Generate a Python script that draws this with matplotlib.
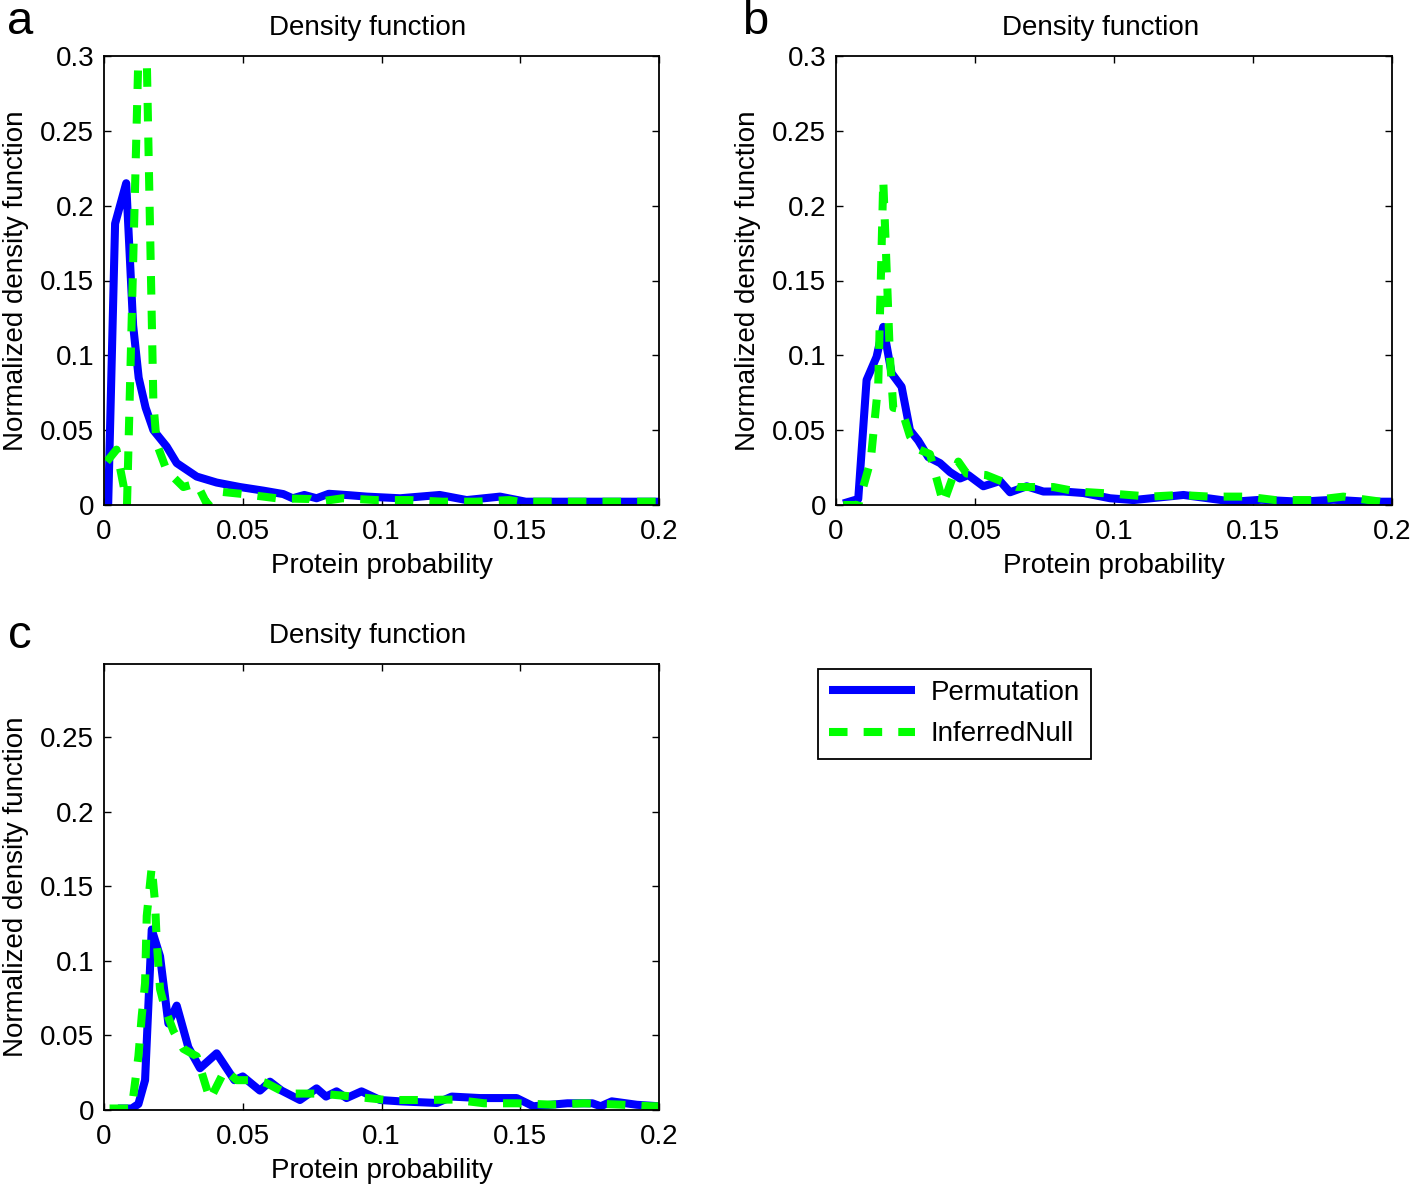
import matplotlib
matplotlib.use("Agg")
import matplotlib.pyplot as plt

plt.rcParams["font.family"] = ["Liberation Sans", "DejaVu Sans"]

# ── data ──────────────────────────────────────────────────────
# panel a
xa_perm = [0.0015, 0.004, 0.008, 0.0105, 0.0125, 0.015, 0.0178, 0.0226, 0.0262,
           0.0334, 0.0406, 0.049, 0.0574, 0.0646, 0.068, 0.0722, 0.0766, 0.081,
           0.0886, 0.0947, 0.1067, 0.121, 0.1307, 0.1427, 0.152, 0.175, 0.2]
ya_perm = [0.0, 0.188, 0.215, 0.12, 0.085, 0.065, 0.050, 0.039, 0.028,
           0.019, 0.015, 0.012, 0.0096, 0.0073, 0.0045, 0.0067, 0.0045, 0.0075,
           0.0065, 0.0056, 0.0045, 0.0067, 0.0033, 0.0056, 0.0022, 0.0022, 0.0022]
xa_null = [0.001, 0.0045, 0.0083, 0.0141, 0.0178, 0.019, 0.0226, 0.0286, 0.0334,
           0.037, 0.0418, 0.0502, 0.0622, 0.0742, 0.0766, 0.086, 0.098, 0.11,
           0.122, 0.134, 0.146, 0.1495, 0.17, 0.2]
ya_null = [0.029, 0.037, 0.001, 0.425, 0.068, 0.041, 0.023, 0.012, 0.0145,
           0.001, 0.0089, 0.0073, 0.0045, 0.004, 0.002, 0.0045, 0.0033, 0.0033,
           0.0022, 0.0022, 0.0033, 0.0022, 0.0022, 0.0022]

# panel b
xb_perm = [0.0026, 0.008, 0.011, 0.0146, 0.017, 0.020, 0.0236, 0.0266, 0.0296,
           0.0332, 0.0374, 0.041, 0.0446, 0.0476, 0.053, 0.059, 0.0626, 0.0686,
           0.0746, 0.0818, 0.089, 0.0986, 0.107, 0.125, 0.143, 0.153, 0.167,
           0.179, 0.191, 0.2]
yb_perm = [0.001, 0.004, 0.0835, 0.099, 0.119, 0.088, 0.079, 0.050, 0.043,
           0.032, 0.028, 0.022, 0.0177, 0.020, 0.0125, 0.016, 0.0085, 0.0125,
           0.009, 0.009, 0.008, 0.0045, 0.0033, 0.0067, 0.0022, 0.0035, 0.0022,
           0.0035, 0.0022, 0.0022]
xb_null = [0.0026, 0.008, 0.0125, 0.0152, 0.017, 0.0194, 0.0206, 0.0236, 0.0266,
           0.030, 0.0338, 0.0386, 0.044, 0.047, 0.054, 0.058, 0.065, 0.0782,
           0.0866, 0.0998, 0.113, 0.1237, 0.1345, 0.1477, 0.158, 0.172, 0.1825,
           0.196, 0.2]
yb_null = [0.0, 0.0, 0.03, 0.081, 0.217, 0.099, 0.065, 0.064, 0.046,
           0.037, 0.034, 0.001, 0.029, 0.021, 0.020, 0.017, 0.012, 0.012,
           0.009, 0.0075, 0.0056, 0.0067, 0.0056, 0.0056, 0.0033, 0.0033, 0.0056,
           0.0022, 0.0022]

# panel c
xc_perm = [0.005, 0.010, 0.0124, 0.0148, 0.0172, 0.0202, 0.0232, 0.0262, 0.0304,
           0.0346, 0.0406, 0.047, 0.050, 0.0562, 0.0598, 0.064, 0.0706, 0.0766,
           0.080, 0.0838, 0.0874, 0.0928, 0.0995, 0.1067, 0.12, 0.1253, 0.1355,
           0.1487, 0.1547, 0.167, 0.176, 0.179, 0.183, 0.192, 0.2]
yc_perm = [0.001, 0.001, 0.004, 0.020, 0.121, 0.103, 0.058, 0.070, 0.042,
           0.028, 0.038, 0.020, 0.0225, 0.013, 0.019, 0.013, 0.0067, 0.0145,
           0.009, 0.0125, 0.008, 0.0125, 0.0067, 0.0058, 0.0047, 0.009, 0.008,
           0.008, 0.0025, 0.0045, 0.0045, 0.0025, 0.0058, 0.0035, 0.0025]
xc_null = [0.002, 0.010, 0.0124, 0.0136, 0.0148, 0.0154, 0.0172, 0.0184, 0.019,
           0.0202, 0.022, 0.025, 0.0286, 0.0334, 0.0382, 0.0436, 0.0478, 0.055,
           0.0586, 0.0658, 0.0778, 0.0898, 0.1018, 0.114, 0.126, 0.137, 0.149,
           0.161, 0.173, 0.186, 0.197, 0.2]
yc_null = [0.001, 0.001, 0.036, 0.063, 0.085, 0.130, 0.163, 0.139, 0.113,
           0.081, 0.068, 0.053, 0.041, 0.036, 0.007, 0.027, 0.020, 0.020,
           0.018, 0.011, 0.011, 0.009, 0.0067, 0.0067, 0.007, 0.0045, 0.0045,
           0.0036, 0.0045, 0.0036, 0.0025, 0.0025]

x_ticks = [0, 0.05, 0.1, 0.15, 0.2]
x_ticklabels = ["0", "0.05", "0.1", "0.15", "0.2"]
y_ticks_ab = [0, 0.05, 0.1, 0.15, 0.2, 0.25, 0.3]
y_ticklabels_ab = ["0", "0.05", "0.1", "0.15", "0.2", "0.25", "0.3"]
y_ticks_c = y_ticks_ab[:-1]
y_ticklabels_c = y_ticklabels_ab[:-1]

BLUE = "#0000ff"
GREEN = "#00ff00"
FS = 20
W, H = 1412, 1184


def rect(l, t, r, b):
    return [l / W, 1 - b / H, (r - l) / W, (b - t) / H]


def panel(ax, xp, yp, xn, yn, yticks, yticklabels, ytop):
    ax.plot(xp, yp, color=BLUE, lw=5.8, solid_capstyle="butt",
            solid_joinstyle="round", label="Permutation")
    ln, = ax.plot(xn, yn, color=GREEN, lw=5.8, dash_capstyle="butt",
                  dash_joinstyle="round", label="InferredNull")
    ln.set_dashes((2.3, 2.0))
    ax.set_xlim(0, 0.2)
    ax.set_ylim(0, ytop)
    ax.set_xticks(x_ticks)
    ax.set_xticklabels(x_ticklabels)
    ax.set_yticks(yticks)
    ax.set_yticklabels(yticklabels)
    ax.tick_params(direction="in", length=5, width=1.0, top=True, right=True,
                   labelsize=FS)
    ax.tick_params(axis="x", pad=10)
    ax.tick_params(axis="y", pad=7)
    for s in ax.spines.values():
        s.set_linewidth(1.3)
    ax.set_xlabel("Protein probability", fontsize=FS, labelpad=6)
    ax.set_ylabel("Normalized density function", fontsize=FS, labelpad=8)
    ax.set_title("Density function", fontsize=FS, pad=15, x=0.475)


fig = plt.figure(figsize=(W / 100, H / 100), dpi=100)
ax_a = fig.add_axes(rect(104, 56, 659, 505))
ax_b = fig.add_axes(rect(836, 56, 1392, 505))
ax_c = fig.add_axes(rect(104, 664, 659, 1110))

panel(ax_a, xa_perm, ya_perm, xa_null, ya_null, y_ticks_ab, y_ticklabels_ab, 0.3)
panel(ax_b, xb_perm, yb_perm, xb_null, yb_null, y_ticks_ab, y_ticklabels_ab, 0.3)
panel(ax_c, xc_perm, yc_perm, xc_null, yc_null, y_ticks_c, y_ticklabels_c, 0.299)

# panel letters
for lab, px, py in [("a", 20, 22), ("b", 755, 22), ("c", 20, 636)]:
    fig.text(px / W, 1 - py / H, lab, fontsize=34, ha="center", va="center")

handles, labels = ax_a.get_legend_handles_labels()
leg = fig.legend(handles, labels, loc="upper left",
                 bbox_to_anchor=(818 / W, 1 - 669 / H), fontsize=FS,
                 handlelength=3.1, handletextpad=0.55, labelspacing=0.55,
                 borderpad=0.4, borderaxespad=0, fancybox=False,
                 edgecolor="black", framealpha=1)
leg.get_frame().set_linewidth(1.3)

fig.savefig("out.png", dpi=100)
